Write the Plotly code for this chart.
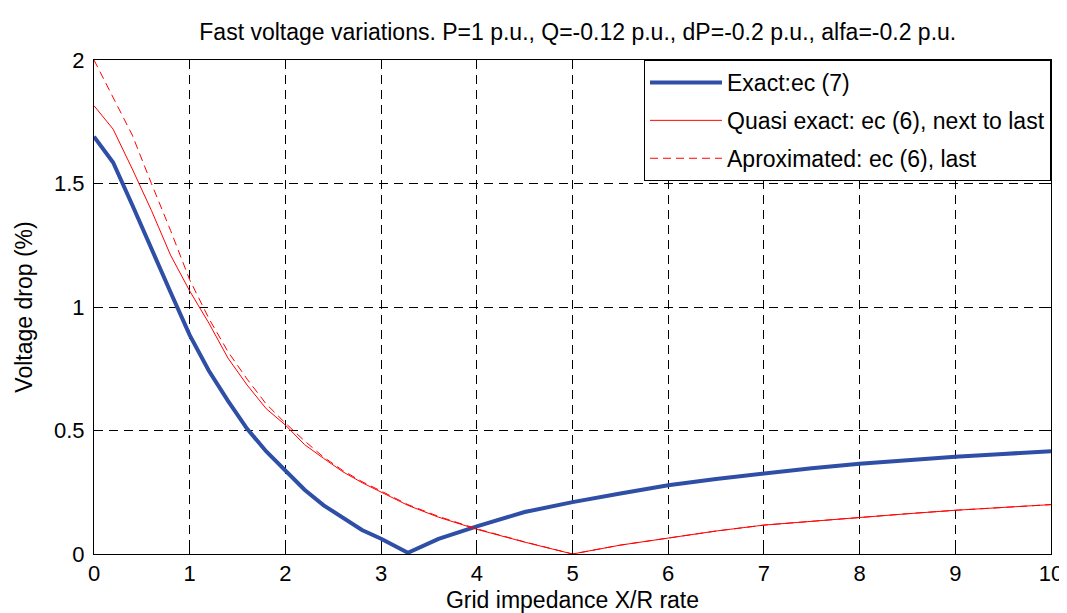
import plotly.graph_objects as go

# X/R rate sample points
xr = [0, 0.2, 0.4, 0.6, 0.8, 1.0, 1.2, 1.4, 1.6, 1.8, 2.0, 2.2, 2.4, 2.6, 2.8, 3.0,
      3.28, 3.6, 4.0, 4.5, 5.0, 5.5, 6.0, 6.5, 7.0, 7.5, 8.0, 8.5, 9.0, 9.5, 10.0]

exact = [1.69, 1.585, 1.413, 1.232, 1.06, 0.886, 0.742, 0.62, 0.507, 0.415, 0.338,
         0.26, 0.197, 0.145, 0.097, 0.062, 0.005, 0.061, 0.112, 0.17, 0.21, 0.245,
         0.278, 0.304, 0.327, 0.347, 0.365, 0.38, 0.394, 0.405, 0.416]

quasi = [1.815, 1.72, 1.559, 1.391, 1.21, 1.065, 0.935, 0.793, 0.684, 0.588, 0.522,
         0.443, 0.387, 0.333, 0.289, 0.25, 0.197, 0.149, 0.1, 0.048, 0.0, 0.036,
         0.066, 0.093, 0.117, 0.133, 0.148, 0.163, 0.177, 0.189, 0.2]

approx = [2.0, 1.851, 1.696, 1.5, 1.31, 1.11, 0.954, 0.819, 0.708, 0.607, 0.53,
          0.458, 0.392, 0.338, 0.293, 0.255, 0.2, 0.152, 0.102, 0.049, 0.0, 0.036,
          0.066, 0.093, 0.117, 0.133, 0.148, 0.163, 0.177, 0.189, 0.2]

FONT = "Liberation Sans, Arial, sans-serif"

fig = go.Figure()
fig.add_trace(go.Scatter(x=xr, y=exact, mode='lines', name='Exact:ec (7)',
                         line=dict(color='#2f4fa6', width=4), legendgroup='a'))
fig.add_trace(go.Scatter(x=xr, y=quasi, mode='lines', name='Quasi exact: ec (6), next to last',
                         line=dict(color='#ff0000', width=1), legendgroup='b'))
fig.add_trace(go.Scatter(x=xr, y=approx, mode='lines', name='Aproximated: ec (6), last',
                         line=dict(color='#ff0000', width=1, dash='8px,5px'), legendgroup='c'))

axis_common = dict(
    showline=True, linecolor='black', linewidth=1, mirror='ticks',
    ticks='inside', ticklen=8, tickcolor='black',
    showgrid=True, gridcolor='black', gridwidth=1, griddash='9px,6px',
    zeroline=False, tickfont=dict(family=FONT, size=22, color='black'),
)

fig.update_layout(
    width=1067, height=613,
    margin=dict(l=86, r=14, t=52, b=64),
    paper_bgcolor='white', plot_bgcolor='white',
    font=dict(family=FONT, size=22, color='black'),
    title=dict(text='Fast voltage variations. P=1 p.u., Q=-0.12 p.u., dP=-0.2 p.u., alfa=-0.2 p.u.',
               x=0.534, xanchor='center', y=1 - 24 / 613, yanchor='middle', yref='container',
               font=dict(family=FONT, size=23, color='black')),
    xaxis=dict(range=[0, 10], dtick=1,
               title=dict(text='Grid impedance X/R rate', standoff=6,
                          font=dict(family=FONT, size=23, color='black')),
               **axis_common),
    yaxis=dict(range=[0, 2], dtick=0.5, ticklabelstandoff=4,
               title=dict(text='Voltage drop (%)', standoff=14,
                          font=dict(family=FONT, size=23, color='black')),
               **axis_common),
    legend=dict(x=1, y=1, xanchor='right', yanchor='top', bgcolor='white',
                bordercolor='black', borderwidth=1, traceorder='grouped',
                tracegroupgap=5, itemwidth=72,
                font=dict(family=FONT, size=23, color='black')),
    showlegend=True,
)

fig.write_html("out.html")
